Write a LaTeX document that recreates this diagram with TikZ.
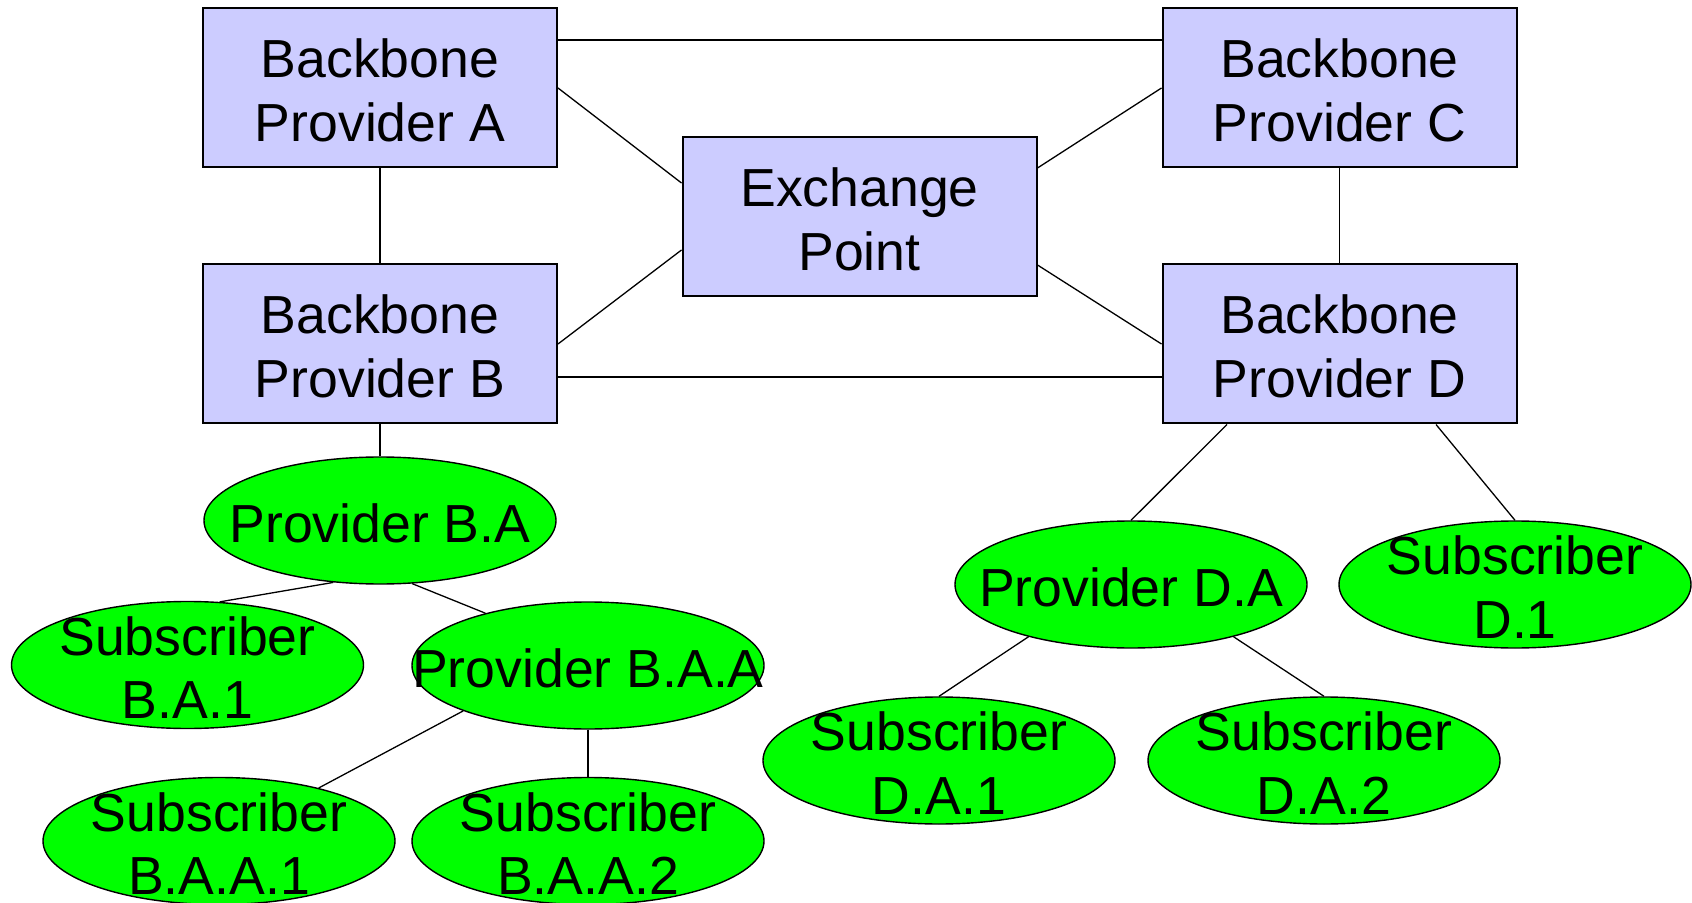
\documentclass[tikz,border=0pt]{standalone}
\usepackage{fontspec}
\setmainfont{Liberation Sans}
\usetikzlibrary{shapes.geometric}
\definecolor{boxblue}{HTML}{CCCCFF}
\definecolor{ellgreen}{HTML}{00FF00}
\begin{document}
\begin{tikzpicture}[x=0.5pt,y=-0.5pt,
  bbox/.style={draw=black, line width=1pt, fill=boxblue, rectangle, minimum width=177pt, minimum height=79.5pt, inner sep=0pt},
  oval/.style={draw=black, line width=0.7pt, fill=ellgreen, ellipse, minimum width=176pt, minimum height=63.5pt, inner sep=0pt},
  lbl/.style={align=center, font=\fontsize{26.8}{31.8}\selectfont, inner sep=0pt, yshift=-1.3pt},
  link/.style={draw=black, line width=0.65pt}]
\useasboundingbox (0,0) rectangle (1692,903);
% boxes
\node[bbox] (A) at (380,88) {};
\node[bbox] (B) at (380,344) {};
\node[bbox] (C) at (1339.5,88) {};
\node[bbox] (D) at (1339.5,344) {};
\node[bbox] (E) at (859.5,216.5) {};
% ellipses
\node[oval] (BA) at (380,520.5) {};
\node[oval] (SBA1) at (187.5,665) {};
\node[oval] (BAA) at (588,665.5) {};
\node[oval] (SBAA1) at (219,841) {};
\node[oval] (SBAA2) at (588,841) {};
\node[oval] (DA) at (1131,584.5) {};
\node[oval] (D1) at (1515,584.5) {};
\node[oval] (DA1) at (939,760.5) {};
\node[oval] (DA2) at (1324,760.5) {};
% labels
\node[lbl] (tA) at (A) {Backbone\\Provider A};
\node[lbl] (tB) at (B) {Backbone\\Provider B};
\node[lbl] (tC) at (C) {Backbone\\Provider C};
\node[lbl] (tD) at (D) {Backbone\\Provider D};
\node[lbl] (tE) at (E) {Exchange\\Point};
\node[lbl] (tBA) at (BA) {Provider B.A};
\node[lbl] (tSBA1) at (SBA1) {Subscriber\\B.A.1};
\node[lbl] (tBAA) at (BAA) {Provider B.A.A};
\node[lbl] (tSBAA1) at (SBAA1) {Subscriber\\B.A.A.1};
\node[lbl] (tSBAA2) at (SBAA2) {Subscriber\\B.A.A.2};
\node[lbl] (tDA) at (DA) {Provider D.A};
\node[lbl] (tD1) at (D1) {Subscriber\\D.1};
\node[lbl] (tDA1) at (DA1) {Subscriber\\D.A.1};
\node[lbl] (tDA2) at (DA2) {Subscriber\\D.A.2};
% connectors
\draw[link] ([yshift=24pt]A.east) -- ([yshift=24pt]C.west);
\draw[link] (A.south) -- (B.north);
\draw[link] (C.south) -- (D.north);
\draw[link] ([yshift=-16.5pt]B.east) -- ([yshift=-16.5pt]D.west);
\draw[link] (A.east) -- ([yshift=16.75pt]E.west);
\draw[link] (B.east) -- ([yshift=-16.75pt]E.west);
\draw[link] ([yshift=24.25pt]E.east) -- (C.west);
\draw[link] ([yshift=-24.25pt]E.east) -- (D.west);
\draw[link] (B.south) -- (BA.north);
\draw[link] (BA.233) -- (SBA1.63);
\draw[link] (BA.297) -- (BAA.153);
\draw[link] (BAA.200) -- (SBAA1.28);
\draw[link] (BAA.south) -- (SBAA2.north);
\draw[link] ([xshift=-56.25pt]D.south) -- (DA.north);
\draw[link] ([xshift=48.25pt]D.south) -- (D1.north);
\draw[link] (DA.207) -- (DA1.north);
\draw[link] (DA.333) -- (DA2.north);
\end{tikzpicture}
\end{document}
